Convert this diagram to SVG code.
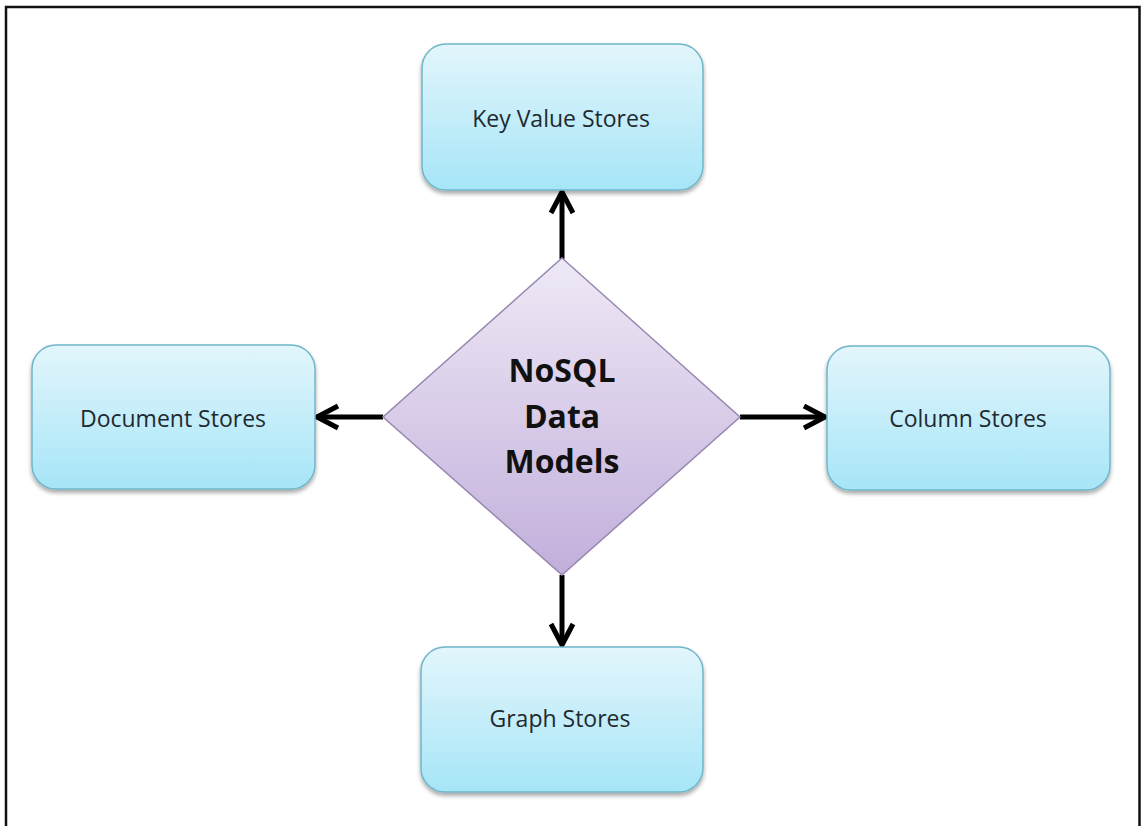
<svg xmlns="http://www.w3.org/2000/svg" width="1141" height="826" viewBox="0 0 1141 826">
  <style>
    .box { stroke: #6fb6c9; stroke-width: 1.5; fill: url(#blueGrad); filter: url(#shadow); }
    .lbl { font-family: "Open Sans", "Liberation Sans", sans-serif; font-size: 23px; fill: #1f2a30; text-anchor: middle; }
    .title { font-family: "Open Sans", "Liberation Sans", sans-serif; font-size: 32px; font-weight: bold; fill: #111; text-anchor: middle; }
    .conn { stroke: #000; stroke-width: 5; fill: none; marker-end: url(#arrow); }
  </style>
  <defs>
    <linearGradient id="blueGrad" x1="0" y1="0" x2="0" y2="1">
      <stop offset="0" stop-color="#e3f6fc"/>
      <stop offset="1" stop-color="#a6e5f7"/>
    </linearGradient>
    <linearGradient id="purpleGrad" x1="0" y1="0" x2="0" y2="1">
      <stop offset="0" stop-color="#efe9f6"/>
      <stop offset="1" stop-color="#c1afdb"/>
    </linearGradient>
    <filter id="shadow" x="-10%" y="-10%" width="120%" height="125%">
      <feGaussianBlur in="SourceAlpha" stdDeviation="2"/>
      <feOffset dx="0" dy="3" result="b"/>
      <feComponentTransfer><feFuncA type="linear" slope="0.35"/></feComponentTransfer>
      <feMerge><feMergeNode/><feMergeNode in="SourceGraphic"/></feMerge>
    </filter>
    <marker id="arrow" markerUnits="userSpaceOnUse" markerWidth="30" markerHeight="30" viewBox="-26 -15 30 30" refX="0" refY="0" orient="auto">
      <path d="M-21,-11 L0,0 L-21,11" fill="none" stroke="#000" stroke-width="5" stroke-linejoin="miter"/>
    </marker>
  </defs>

  <rect width="1141" height="826" fill="#fff"/>
  <path d="M6,826 V7 H1139.5 V826" fill="none" stroke="#111" stroke-width="2.5"/>

  <g id="connectors">
    <line class="conn" x1="562" y1="259" x2="562" y2="192"/>
    <line class="conn" x1="383" y1="417" x2="317" y2="417"/>
    <line class="conn" x1="740" y1="417" x2="825" y2="417"/>
    <line class="conn" x1="562" y1="575" x2="562" y2="645"/>
  </g>

  <g id="node-center">
    <polygon points="562,258 740,417 562,575 383,417" fill="url(#purpleGrad)" stroke="#9787b0" stroke-width="1.5"/>
    <text class="title" x="562" y="382">NoSQL</text>
    <text class="title" x="562" y="428">Data</text>
    <text class="title" x="562" y="473">Models</text>
  </g>

  <g id="node-keyvalue">
    <rect class="box" x="422" y="44" width="281" height="146" rx="24"/>
    <text class="lbl" x="561" y="127">Key Value Stores</text>
  </g>

  <g id="node-document">
    <rect class="box" x="32" y="345" width="283" height="144" rx="24"/>
    <text class="lbl" x="173" y="427">Document Stores</text>
  </g>

  <g id="node-column">
    <rect class="box" x="827" y="346" width="283" height="144" rx="24"/>
    <text class="lbl" x="968" y="427">Column Stores</text>
  </g>

  <g id="node-graph">
    <rect class="box" x="421" y="647" width="282" height="145" rx="24"/>
    <text class="lbl" x="560" y="727">Graph Stores</text>
  </g>
</svg>
